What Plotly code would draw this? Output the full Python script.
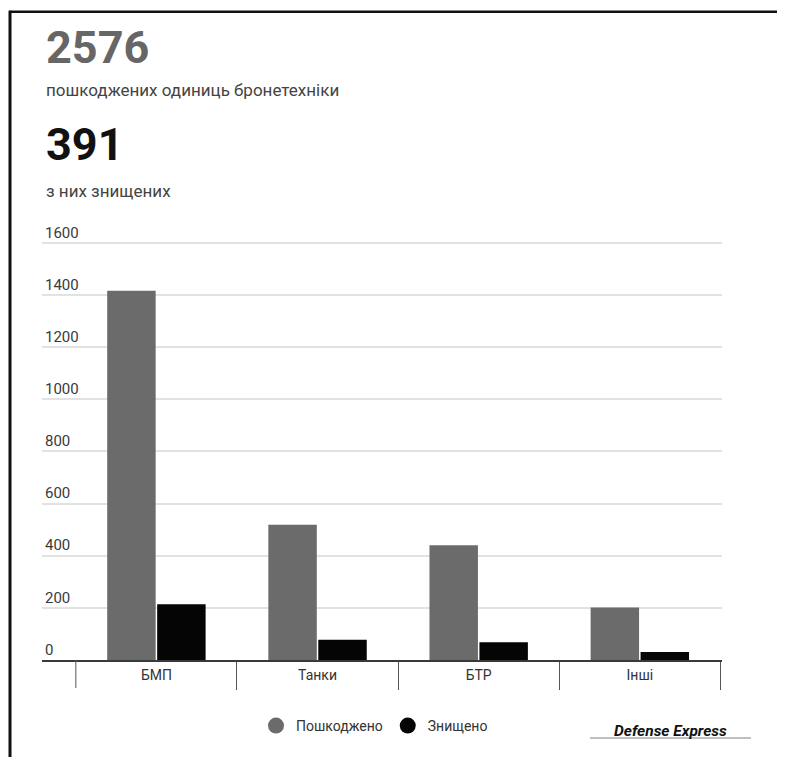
import plotly.graph_objects as go

categories = ["БМП", "Танки", "БТР", "Інші"]
damaged = [1416, 519, 440, 201]
destroyed = [214, 78, 68, 31]
series_names = ["Пошкоджено", "Знищено"]
total_damaged = "2576"
total_destroyed = "391"
subtitle_damaged = "пошкоджених одиниць бронетехніки"
subtitle_destroyed = "з них знищених"
y_ticks = [0, 200, 400, 600, 800, 1000, 1200, 1400, 1600]
watermark = "Defense Express"

GRAY = "#6b6b6b"
BLACK = "#050505"
FONT = "Roboto"

OFF = 8  # page body margin
W, H = 785 - OFF, 757 - OFF
Y_TOP = 1680
ZERO_Y = 660
SCALE = (660 - 243) / 1600.0
TOP_Y = ZERO_Y - Y_TOP * SCALE
L = 42 - OFF
R = 785 - 722
T = TOP_Y - OFF
B = 757 - ZERO_Y
PW, PH = W - L - R, H - T - B
TICKLEN = 28


def px(xp):
    return (xp - OFF - L) / PW


def py(yp):
    return (H - B - (yp - OFF)) / PH


fig = go.Figure()
fig.add_trace(go.Bar(x=categories, y=damaged, name=series_names[0],
                     marker=dict(color=GRAY, line=dict(width=0)), showlegend=False))
fig.add_trace(go.Bar(x=categories, y=destroyed, name=series_names[1],
                     marker=dict(color=BLACK, line=dict(width=0)), showlegend=False))
for name, col in zip(series_names, [GRAY, BLACK]):
    fig.add_trace(go.Scatter(x=[None], y=[None], mode="markers", name=name,
                             marker=dict(color=col, size=19, symbol="circle")))

fig.update_layout(
    width=W, height=H,
    margin=dict(l=L, r=R, t=T, b=B, pad=0),
    paper_bgcolor="white", plot_bgcolor="white",
    font=dict(family=FONT, color="#333"),
    barmode="group", bargap=0.38, bargroupgap=0.03,
    showlegend=True,
    legend=dict(orientation="h", x=px(256), xanchor="left", y=py(726), yanchor="middle",
                font=dict(family=FONT, size=14, color="#333"), itemsizing="trace",
                bgcolor="rgba(0,0,0,0)"),
    xaxis=dict(type="category", range=[-0.71, 3.51], showgrid=False,
               showline=True, linecolor="#3a3a3a", linewidth=2,
               ticks="outside", tickson="boundaries", ticklen=TICKLEN, tickcolor="#555",
               tickwidth=1, ticklabelstandoff=1,
               tickfont=dict(family=FONT, size=14, color="#333")),
    yaxis=dict(range=[0, Y_TOP], tickvals=y_ticks, showgrid=True, gridcolor="#e2e2e2",
               gridwidth=1.5, zeroline=False, showline=False,
               ticklabelposition="inside top",
               tickfont=dict(family=FONT, size=15, color="#3a3a3a")),
    annotations=[
        dict(text=f"<b>{total_damaged}</b>", xref="paper", yref="paper", x=px(44), y=py(48),
             xanchor="left", yanchor="middle", showarrow=False,
             font=dict(family=FONT, size=45, color="#666")),
        dict(text=subtitle_damaged, xref="paper", yref="paper", x=px(44), y=py(90),
             xanchor="left", yanchor="middle", showarrow=False,
             font=dict(family=FONT, size=17, color="#444")),
        dict(text=f"<b>{total_destroyed}</b>", xref="paper", yref="paper", x=px(44), y=py(145),
             xanchor="left", yanchor="middle", showarrow=False,
             font=dict(family=FONT, size=45, color="#111")),
        dict(text=subtitle_destroyed, xref="paper", yref="paper", x=px(44), y=py(191),
             xanchor="left", yanchor="middle", showarrow=False,
             font=dict(family=FONT, size=17, color="#444")),
        dict(text=f"<b><i>{watermark}</i></b>", xref="paper", yref="paper", x=px(670), y=py(731),
             xanchor="center", yanchor="middle", showarrow=False,
             font=dict(family=FONT, size=15.5, color="#111")),
    ],
    shapes=[
        dict(type="line", xref="x", yref="paper", x0=-0.5, x1=-0.5, y0=0, y1=-TICKLEN / PH,
             line=dict(color="#555", width=1)),
        dict(type="line", xref="paper", yref="paper", x0=px(590), x1=px(751), y0=py(738), y1=py(738),
             line=dict(color="#aaa", width=1.5)),
        dict(type="line", xref="paper", yref="paper", x0=px(10), x1=px(10), y0=py(11), y1=py(757),
             line=dict(color="#111", width=3)),
        dict(type="line", xref="paper", yref="paper", x0=px(9), x1=px(785), y0=py(12), y1=py(12),
             line=dict(color="#111", width=2.5)),
    ],
)

fig.write_html("out.html")
